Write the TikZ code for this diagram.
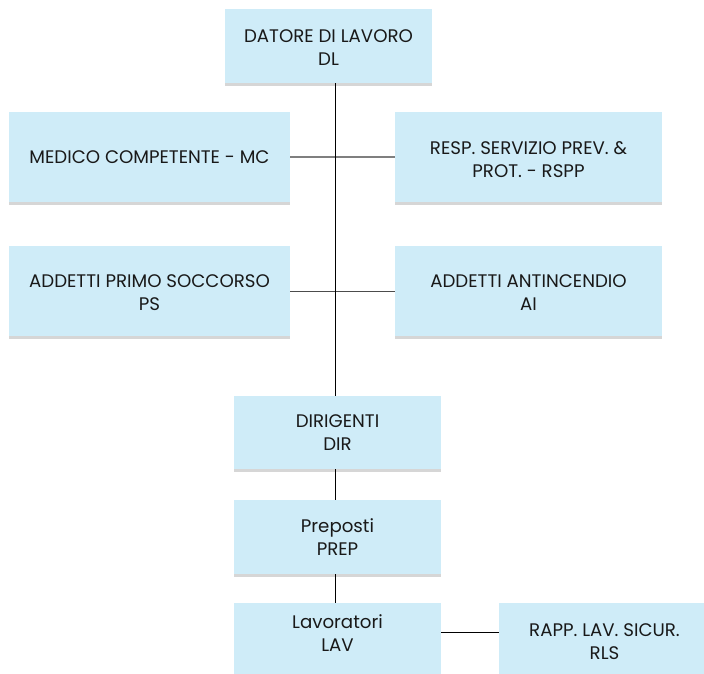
\documentclass[tikz,border=0pt]{standalone}
\usepackage{fontspec}
\setmainfont{Poppins}
\usetikzlibrary{shadows}
\definecolor{boxfill}{HTML}{CFECF8}
\definecolor{shadowgray}{HTML}{D6D6D6}
\definecolor{linkgray}{HTML}{7F7F7F}
% #1 = how far the two lines sit below the box centre
\newcommand{\twolines}[3][3pt]{\raisebox{0pt}[\dimexpr\height+#1\relax][\dimexpr\depth-#1\relax]{\begin{tabular}{@{}c@{}}#2\\#3\end{tabular}}}
\tikzset{
  orgbox/.style={fill=boxfill, draw=none, align=center, inner sep=0pt,
    font=\fontsize{18.2}{23}\selectfont, text=black!90,
    drop shadow={shadow xshift=0pt, shadow yshift=-2.5pt, fill=shadowgray, opacity=1}},
  spineline/.style={draw=black, line width=1pt},
  sidelink/.style={draw=linkgray, line width=1.3pt},
  sidelinkb/.style={draw=black!70, line width=1pt},
}
\begin{document}
\begin{tikzpicture}[x=1pt,y=-1pt]
\useasboundingbox (0,0) rectangle (704,673);
\clip (0,0) rectangle (704,673);
\fill[white] (0,0) rectangle (704,673);
\node[orgbox, minimum width=207, minimum height=74] (dl) at (328.5,46) {\twolines[3.5pt]{DATORE DI LAVORO}{DL}};
\node[orgbox, minimum width=281, minimum height=90] (mc) at (149.5,157) {MEDICO COMPETENTE - MC};
\node[orgbox, minimum width=267, minimum height=90] (rspp) at (528.5,157) {\twolines[4pt]{RESP. SERVIZIO PREV. \&}{PROT. - RSPP}};
\node[orgbox, minimum width=281, minimum height=90] (ps) at (149.5,291) {\twolines{ADDETTI PRIMO SOCCORSO}{PS}};
\node[orgbox, minimum width=267, minimum height=90] (ai) at (528.5,291) {\twolines{ADDETTI ANTINCENDIO}{AI}};
\node[orgbox, minimum width=207, minimum height=73] (dir) at (337.5,432.5) {\twolines[2pt]{DIRIGENTI}{DIR}};
\node[orgbox, minimum width=207, minimum height=74] (prep) at (337.5,537) {\twolines[2pt]{Preposti}{PREP}};
\node[orgbox, minimum width=207, minimum height=80] (lav) at (337.5,643) {\twolines[-8pt]{Lavoratori}{LAV}};
\node[orgbox, minimum width=211, minimum height=80] (rls) at (604.5,643) {\twolines[0.5pt]{RAPP. LAV. SICUR.}{RLS}};
\coordinate (spine) at (335.5,0);
\draw[sidelink] (mc.east) -- (rspp.west);
\draw[sidelinkb] (ps.east) -- (ai.west);
\draw[spineline] (dl.south -| spine) -- (dir.north -| spine);
\draw[spineline] (dir.south -| spine) -- (prep.north -| spine);
\draw[spineline] (prep.south -| spine) -- (lav.north -| spine);
\coordinate (lavlink) at (0,632);
\draw[spineline] (lav.east |- lavlink) -- (rls.west |- lavlink);
\end{tikzpicture}
\end{document}
